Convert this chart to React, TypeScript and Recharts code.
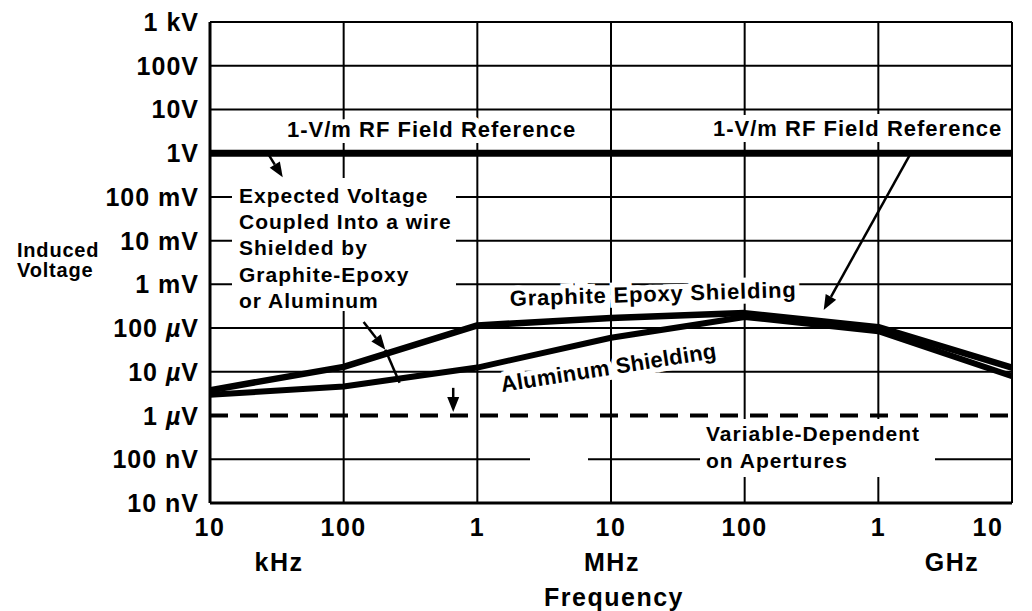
import React from 'react';
import { LineChart, Line, XAxis, YAxis, CartesianGrid, ReferenceLine } from 'recharts';

const FONT = '"Liberation Sans", Arial, Helvetica, sans-serif';

// frequency axis (Hz), decades
const xTicks = [1e4, 1e5, 1e6, 1e7, 1e8, 1e9, 1e10];
const xTickLabels = ['10', '100', '1', '10', '100', '1', '10'];

// voltage axis (V), decades
const yTicks = [1e-8, 1e-7, 1e-6, 1e-5, 1e-4, 1e-3, 1e-2, 1e-1, 1, 10, 100, 1000];
const yTickLabels = ['10 nV', '100 nV', '1 µV', '10 µV', '100 µV', '1 mV', '10 mV', '100 mV', '1V', '10V', '100V', '1 kV'];
const gridY = yTicks.filter(v => v !== 1e-6);

// Graphite Epoxy shielding
const graphiteFreq = [1e4, 1e5, 1e6, 1e7, 1e8, 1e9, 1e10];
const graphiteVolts = [3.8e-6, 1.3e-5, 1.15e-4, 1.7e-4, 2.2e-4, 1.05e-4, 1.25e-5];

// Aluminum shielding
const aluminumFreq = [1e4, 1e5, 1e6, 1e7, 1e8, 1e9, 1e10];
const aluminumVolts = [3.0e-6, 4.6e-6, 1.25e-5, 6.0e-5, 1.8e-4, 8.5e-5, 8.0e-6];

const rfReference = 1; // 1 V
const apertureLevel = 1e-6; // 1 uV

// annotation arrows in data coords [f1, v1, f2, v2, head]
const arrows: [number, number, number, number, boolean][] = [
  [2.7e4, 1.0, 3.5e4, 0.28, true],
  [1.75e9, 1.0, 3.9e8, 2.6e-4, true],
  [1.41e5, 1.38e-4, 2.05e5, 3.2e-5, true],
  [2.05e5, 3.2e-5, 2.62e5, 5.6e-6, false],
  [6.6e5, 4.3e-6, 6.6e5, 1.2e-6, true],
];

const graphiteData = graphiteFreq.map((f, i) => ({ f, v: graphiteVolts[i] }));
const aluminumData = aluminumFreq.map((f, i) => ({ f, v: aluminumVolts[i] }));

const arrowShape = (head: boolean) => (p: any) => {
  const { x1, y1, x2, y2 } = p;
  if (!head) return <line x1={x1} y1={y1} x2={x2} y2={y2} stroke="#000" strokeWidth={2.5} />;
  const a = Math.atan2(y2 - y1, x2 - x1);
  const len = 15, w = 6;
  const bx = x2 - len * Math.cos(a), by = y2 - len * Math.sin(a);
  const pts = [
    [x2, y2],
    [bx + w * Math.sin(a), by - w * Math.cos(a)],
    [bx - w * Math.sin(a), by + w * Math.cos(a)],
  ].map(q => q.join(',')).join(' ');
  return (
    <g>
      <line x1={x1} y1={y1} x2={bx} y2={by} stroke="#000" strokeWidth={2.5} />
      <polygon points={pts} fill="#000" />
    </g>
  );
};

function YTick(props: any) {
  const { x, y, index } = props;
  const label = yTickLabels[index] ?? '';
  const parts = label.split('µ');
  return (
    <text x={x - 11} y={y + 9} textAnchor="end" fontFamily={FONT} fontWeight="bold" fontSize={25} letterSpacing={1} fill="#000">
      {parts.length > 1 ? (
        <>
          <tspan>{parts[0]}</tspan>
          <tspan fontStyle="italic">µ</tspan>
          <tspan>{parts[1]}</tspan>
        </>
      ) : label}
    </text>
  );
}

function XTick(props: any) {
  const { x, y, index } = props;
  return (
    <text x={x} y={y + 33} textAnchor="middle" fontFamily={FONT} fontWeight="bold" fontSize={25} letterSpacing={1.5} fill="#000">
      {xTickLabels[index]}
    </text>
  );
}

function Txt({ x, y, size = 21, sp = 1, rot = 0, anchor = 'start', halo = 0, children }: any) {
  return (
    <text
      x={x}
      y={y}
      textAnchor={anchor}
      fontFamily={FONT}
      fontWeight="bold"
      fontSize={size}
      letterSpacing={sp}
      fill="#000"
      stroke={halo ? '#fff' : 'none'}
      strokeWidth={halo}
      paintOrder="stroke"
      transform={rot ? `rotate(${rot} ${x} ${y})` : undefined}
    >
      {children}
    </text>
  );
}

export default function App() {
  return (
    <div style={{ position: 'fixed', left: 0, top: 0, width: 1032, height: 611, background: '#fff' }}>
      <LineChart width={1032} height={611} margin={{ top: 22, right: 20, bottom: 68, left: 10 }}>
        <CartesianGrid stroke="#000" strokeWidth={2} horizontalValues={gridY} verticalValues={xTicks} />
        <XAxis
          dataKey="f"
          type="number"
          scale="log"
          domain={[1e4, 1e10]}
          ticks={xTicks}
          allowDataOverflow
          height={40}
          tickSize={0}
          tickMargin={0}
          tickLine={false}
          axisLine={{ stroke: '#000', strokeWidth: 3 }}
          tick={<XTick />}
        />
        <YAxis
          type="number"
          scale="log"
          domain={[1e-8, 1e3]}
          ticks={yTicks}
          allowDataOverflow
          width={200}
          tickSize={0}
          tickMargin={0}
          tickLine={false}
          axisLine={{ stroke: '#000', strokeWidth: 3 }}
          tick={<YTick />}
          interval={0}
        />
        <ReferenceLine y={rfReference} stroke="#000" strokeWidth={7} />
        <ReferenceLine y={apertureLevel} stroke="#000" strokeWidth={4} strokeDasharray="18 12" />
        <Line data={graphiteData} dataKey="v" type="linear" stroke="#000" strokeWidth={6.5} strokeLinejoin="round" dot={false} isAnimationActive={false} />
        <Line data={aluminumData} dataKey="v" type="linear" stroke="#000" strokeWidth={6} strokeLinejoin="round" dot={false} isAnimationActive={false} />
        {arrows.map(([f1, v1, f2, v2, head], i) => (
          <ReferenceLine
            key={`arrow-${i}`}
            segment={[{ x: f1, y: v1 }, { x: f2, y: v2 }]}
            shape={arrowShape(head)}
          />
        ))}

        {/* white boxes behind text blocks */}
        <rect x={232} y={178} width={224} height={133} fill="#fff" />
        <rect x={700} y={419} width={235} height={58} fill="#fff" />
        <rect x={530} y={458} width={58} height={8} fill="#fff" />

        <Txt x={287} y={137} size={22} sp={1} halo={12}>1-V/m RF Field Reference</Txt>
        <Txt x={713} y={136} size={22} sp={1} halo={12}>1-V/m RF Field Reference</Txt>

        <Txt x={239} y={203}>Expected Voltage</Txt>
        <Txt x={239} y={229}>Coupled Into a wire</Txt>
        <Txt x={239} y={255}>Shielded by</Txt>
        <Txt x={239} y={282}>Graphite-Epoxy</Txt>
        <Txt x={239} y={308}>or Aluminum</Txt>

        <Txt x={510} y={306} size={22} sp={0.8} rot={-1.8} halo={10}>Graphite Epoxy Shielding</Txt>
        <Txt x={502} y={392} size={22} sp={0.3} rot={-9} halo={10}>Aluminum Shielding</Txt>

        <Txt x={706} y={441}>Variable-Dependent</Txt>
        <Txt x={706} y={468}>on Apertures</Txt>

        <Txt x={17} y={257} size={20} sp={0.8}>Induced</Txt>
        <Txt x={17} y={277} size={20} sp={0.8}>Voltage</Txt>

        <Txt x={279} y={571} size={25} sp={1.5} anchor="middle">kHz</Txt>
        <Txt x={612} y={571} size={25} sp={1.5} anchor="middle">MHz</Txt>
        <Txt x={952} y={571} size={25} sp={1.5} anchor="middle">GHz</Txt>
        <Txt x={614} y={606} size={25} sp={1.5} anchor="middle">Frequency</Txt>
      </LineChart>
    </div>
  );
}
